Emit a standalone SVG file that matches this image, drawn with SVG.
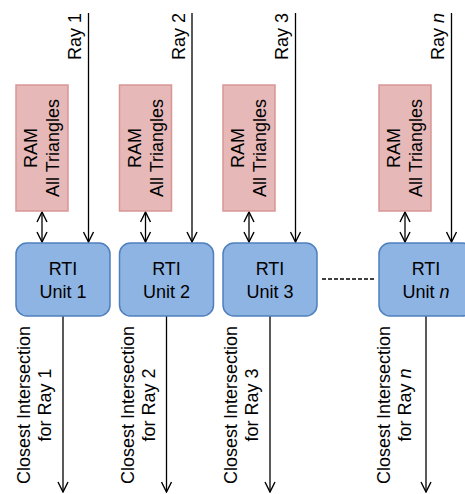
<svg xmlns="http://www.w3.org/2000/svg" width="465" height="494" viewBox="0 0 465 494">
<defs>
<marker id="arr" viewBox="0 0 12 12" refX="11" refY="6" markerWidth="12" markerHeight="12" markerUnits="userSpaceOnUse" orient="auto-start-reverse">
<path d="M1,1 L11,6 L1,11" fill="none" stroke="#000" stroke-width="1.4"/>
</marker>
<style>
.ram{fill:#E6B9B8;stroke:#D99694;stroke-width:1.5}
.rti{fill:#8EB4E3;stroke:#4F7FBD;stroke-width:1.5}
.t{font-family:"Liberation Sans",Arial,sans-serif;font-size:18px;fill:#000;text-anchor:middle}
.te{font-family:"Liberation Sans",Arial,sans-serif;font-size:18px;fill:#000;text-anchor:end}
.ln{stroke:#000;stroke-width:1.3;fill:none}
.i{font-style:italic}
</style>
</defs>
<rect width="465" height="494" fill="#fff"/>
<g id="connectors">
<line class="ln" x1="88.5" y1="13" x2="88.5" y2="242" marker-end="url(#arr)"/>
<line class="ln" x1="192" y1="13" x2="192" y2="242" marker-end="url(#arr)"/>
<line class="ln" x1="295.5" y1="13" x2="295.5" y2="242" marker-end="url(#arr)"/>
<line class="ln" x1="451.5" y1="13" x2="451.5" y2="242" marker-end="url(#arr)"/>
<line class="ln" x1="42" y1="212" x2="42" y2="242" marker-start="url(#arr)" marker-end="url(#arr)"/>
<line class="ln" x1="145.5" y1="212" x2="145.5" y2="242" marker-start="url(#arr)" marker-end="url(#arr)"/>
<line class="ln" x1="249" y1="212" x2="249" y2="242" marker-start="url(#arr)" marker-end="url(#arr)"/>
<line class="ln" x1="405" y1="212" x2="405" y2="242" marker-start="url(#arr)" marker-end="url(#arr)"/>
<line class="ln" x1="63" y1="316" x2="63" y2="492" marker-end="url(#arr)"/>
<line class="ln" x1="166.5" y1="316" x2="166.5" y2="492" marker-end="url(#arr)"/>
<line class="ln" x1="270" y1="316" x2="270" y2="492" marker-end="url(#arr)"/>
<line class="ln" x1="426" y1="316" x2="426" y2="492" marker-end="url(#arr)"/>
<line x1="322" y1="279" x2="374" y2="279" stroke="#000" stroke-width="1.3" stroke-dasharray="4,2"/>
</g>
<g id="ray-labels">
<text class="te" transform="translate(81,13) rotate(-90)">Ray 1</text>
<text class="te" transform="translate(184.5,13) rotate(-90)">Ray 2</text>
<text class="te" transform="translate(288,13) rotate(-90)">Ray 3</text>
<text class="te" transform="translate(444,13) rotate(-90)">Ray <tspan class="i">n</tspan></text>
</g>
<g id="ram1">
<rect class="ram" x="16" y="85" width="52" height="126"/>
<text class="t" transform="translate(42,148) rotate(-90)"><tspan x="0" y="-5">RAM</tspan><tspan x="0" y="17">All Triangles</tspan></text>
</g>
<g id="ram2">
<rect class="ram" x="119.5" y="85" width="52" height="126"/>
<text class="t" transform="translate(145.5,148) rotate(-90)"><tspan x="0" y="-5">RAM</tspan><tspan x="0" y="17">All Triangles</tspan></text>
</g>
<g id="ram3">
<rect class="ram" x="223" y="85" width="52" height="126"/>
<text class="t" transform="translate(249,148) rotate(-90)"><tspan x="0" y="-5">RAM</tspan><tspan x="0" y="17">All Triangles</tspan></text>
</g>
<g id="ramn">
<rect class="ram" x="379" y="85" width="52" height="126"/>
<text class="t" transform="translate(405,148) rotate(-90)"><tspan x="0" y="-5">RAM</tspan><tspan x="0" y="17">All Triangles</tspan></text>
</g>
<g id="rti1">
<rect class="rti" x="16" y="243" width="94" height="73" rx="11"/>
<text class="t" x="63" y="275">RTI</text>
<text class="t" x="63" y="298">Unit 1</text>
</g>
<g id="rti2">
<rect class="rti" x="119.5" y="243" width="94" height="73" rx="11"/>
<text class="t" x="166.5" y="275">RTI</text>
<text class="t" x="166.5" y="298">Unit 2</text>
</g>
<g id="rti3">
<rect class="rti" x="223" y="243" width="94" height="73" rx="11"/>
<text class="t" x="270" y="275">RTI</text>
<text class="t" x="270" y="298">Unit 3</text>
</g>
<g id="rtin">
<rect class="rti" x="379" y="243" width="94" height="73" rx="11"/>
<text class="t" x="426" y="275">RTI</text>
<text class="t" x="426" y="298">Unit <tspan class="i">n</tspan></text>
</g>
<g id="out-labels">
<text class="t" transform="translate(63,405) rotate(-90)"><tspan x="0" y="-33">Closest Intersection</tspan><tspan x="0" y="-12">for Ray 1</tspan></text>
<text class="t" transform="translate(166.5,405) rotate(-90)"><tspan x="0" y="-33">Closest Intersection</tspan><tspan x="0" y="-12">for Ray 2</tspan></text>
<text class="t" transform="translate(270,405) rotate(-90)"><tspan x="0" y="-33">Closest Intersection</tspan><tspan x="0" y="-12">for Ray 3</tspan></text>
<text class="t" transform="translate(426,405) rotate(-90)"><tspan x="0" y="-36">Closest Intersection</tspan><tspan x="0" y="-15">for Ray <tspan class="i">n</tspan></tspan></text>
</g>
</svg>
